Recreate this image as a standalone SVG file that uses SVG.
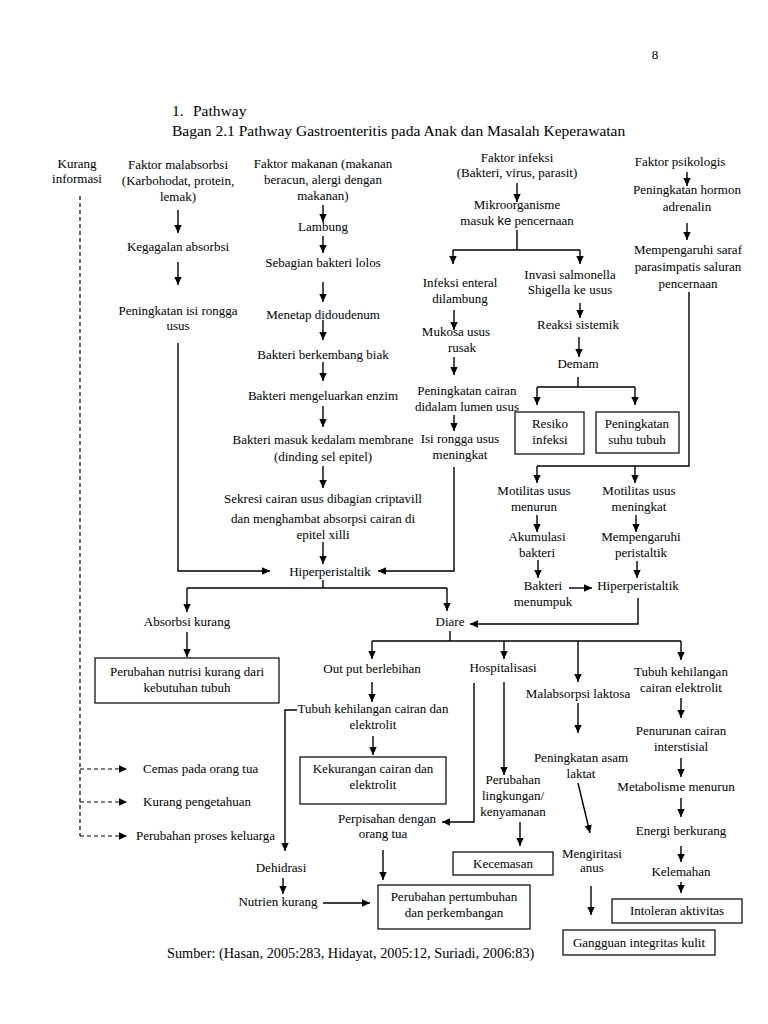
<svg xmlns="http://www.w3.org/2000/svg" width="768" height="1024" viewBox="0 0 768 1024">
<defs>
<marker id="ah" markerWidth="10" markerHeight="10" refX="8" refY="4" orient="auto" markerUnits="userSpaceOnUse"><path d="M0,0.3 L8,4 L0,7.7 z" fill="#000"/></marker>
</defs>
<style>
text{font-family:"Liberation Serif","Times New Roman",serif;font-size:13px;fill:#000}
.c{text-anchor:middle}
.h{font-size:15.5px}
.ln{fill:none;stroke:#000;stroke-width:1.4}
.ar{fill:none;stroke:#000;stroke-width:1.4;marker-end:url(#ah)}
.da{fill:none;stroke:#000;stroke-width:1.2;stroke-dasharray:4 3}
.dar{fill:none;stroke:#000;stroke-width:1.2;stroke-dasharray:4 3;marker-end:url(#ah)}
.box{fill:#fff;stroke:#000;stroke-width:1.2}
</style>
<rect width="768" height="1024" fill="#fff"/>
<g id="header">
<text x="655" y="59" class="c">8</text>
<text x="172" y="116" class="h">1.</text>
<text x="193" y="116" class="h">Pathway</text>
<text x="172" y="136" class="h">Bagan 2.1 Pathway Gastroenteritis pada Anak dan Masalah Keperawatan</text>
</g>
<g id="connectors">
<path class="da" d="M80,196 V836"/>
<path class="dar" d="M80,769 H127"/>
<path class="dar" d="M80,802 H127"/>
<path class="dar" d="M80,836 H127"/>
<path class="ar" d="M178,210 V233"/>
<path class="ar" d="M178,262 V285"/>
<path class="ar" d="M178,343 V571 H270"/>
<path class="ar" d="M323,205 V222"/>
<path class="ar" d="M323,236 V253"/>
<path class="ar" d="M323,282 V302"/>
<path class="ar" d="M323,320 V340"/>
<path class="ar" d="M323,362 V381"/>
<path class="ar" d="M323,406 V427"/>
<path class="ar" d="M323,466 V488"/>
<path class="ar" d="M323,542 V564"/>
<path class="ln" d="M323,580 V588 M187,588 H447"/>
<path class="ar" d="M187,588 V612"/>
<path class="ar" d="M447,588 V611"/>
<path class="ar" d="M187,632 V657"/>
<path class="ar" d="M517,183 V202"/>
<path class="ln" d="M517,230 V250 M453,250 H580"/>
<path class="ar" d="M453,250 V264"/>
<path class="ar" d="M580,250 V264"/>
<path class="ar" d="M454,310 V330"/>
<path class="ar" d="M454,357 V375"/>
<path class="ar" d="M454,415 V431"/>
<path class="ar" d="M454,467 V571 H378"/>
<path class="ar" d="M580,303 V318"/>
<path class="ar" d="M579,337 V357"/>
<path class="ln" d="M578,377 V387 M537,387 H635"/>
<path class="ar" d="M537,387 V405"/>
<path class="ar" d="M635,387 V405"/>
<path class="ar" d="M687,172 V186"/>
<path class="ar" d="M687,223 V240"/>
<path class="ln" d="M689,292 V466 H537"/>
<path class="ar" d="M537,466 V483"/>
<path class="ar" d="M635,466 V483"/>
<path class="ar" d="M537,515 V532"/>
<path class="ar" d="M538,560 V578"/>
<path class="ar" d="M569,588 H592"/>
<path class="ar" d="M636,515 V532"/>
<path class="ar" d="M637,561 V578"/>
<path class="ar" d="M638,598 V624 H470"/>
<path class="ln" d="M450,631 V641 M372,641 H681"/>
<path class="ar" d="M372,641 V659"/>
<path class="ar" d="M504,641 V659"/>
<path class="ar" d="M578,641 V682"/>
<path class="ar" d="M681,641 V660"/>
<path class="ar" d="M372,682 V702"/>
<path class="ar" d="M297,710 H285 V851"/>
<path class="ar" d="M373,736 V755"/>
<path class="ar" d="M474,683 V822 H442"/>
<path class="ar" d="M504,682 V775"/>
<path class="ar" d="M520,822 V846"/>
<path class="ar" d="M383,850 V880"/>
<path class="ar" d="M283,878 V894"/>
<path class="ar" d="M323,903 H370"/>
<path class="ar" d="M578,703 V733"/>
<path class="ar" d="M578,783 L590,833"/>
<path class="ar" d="M591,886 V915"/>
<path class="ar" d="M681,698 V718"/>
<path class="ar" d="M681,758 V777"/>
<path class="ar" d="M681,798 V817"/>
<path class="ar" d="M681,846 V862"/>
<path class="ar" d="M681,882 V893"/>
</g>
<g id="n-kurang-informasi"><text x="77" y="168" class="c">Kurang</text><text x="77" y="183" class="c">informasi</text></g>
<g id="n-faktor-malabsorbsi"><text x="178" y="169" class="c">Faktor malabsorbsi</text><text x="178" y="185" class="c">(Karbohodat, protein,</text><text x="178" y="201" class="c">lemak)</text></g>
<g id="n-kegagalan"><text x="178" y="251" class="c">Kegagalan absorbsi</text></g>
<g id="n-peningkatan-isi"><text x="178" y="315" class="c">Peningkatan isi rongga</text><text x="178" y="330" class="c">usus</text></g>
<g id="n-faktor-makanan"><text x="323" y="168" class="c">Faktor makanan (makanan</text><text x="323" y="184" class="c">beracun, alergi dengan</text><text x="323" y="200" class="c">makanan)</text></g>
<g id="n-lambung"><text x="323" y="231" class="c">Lambung</text></g>
<g id="n-sebagian"><text x="323" y="267" class="c">Sebagian bakteri lolos</text></g>
<g id="n-menetap"><text x="323" y="319" class="c">Menetap didoudenum</text></g>
<g id="n-berkembang"><text x="323" y="359" class="c">Bakteri berkembang biak</text></g>
<g id="n-enzim"><text x="323" y="400" class="c">Bakteri mengeluarkan enzim</text></g>
<g id="n-membrane"><text x="323" y="444" class="c">Bakteri masuk kedalam membrane</text><text x="323" y="461" class="c">(dinding sel epitel)</text></g>
<g id="n-sekresi"><text x="323" y="503" class="c">Sekresi cairan usus dibagian criptavill</text><text x="323" y="523" class="c">dan menghambat absorpsi cairan di</text><text x="323" y="539" class="c">epitel xilli</text></g>
<g id="n-hiper1"><text x="330" y="576" class="c">Hiperperistaltik</text></g>
<g id="n-absorbsi-kurang"><text x="187" y="626" class="c">Absorbsi kurang</text></g>
<g id="n-nutrisi"><rect class="box" x="95" y="658" width="184" height="45"/><text x="187" y="676" class="c">Perubahan nutrisi kurang dari</text><text x="187" y="692" class="c">kebutuhan tubuh</text></g>
<g id="n-faktor-infeksi"><text x="517" y="162" class="c">Faktor infeksi</text><text x="517" y="177" class="c">(Bakteri, virus, parasit)</text></g>
<g id="n-mikro"><text x="517" y="209" class="c">Mikroorganisme</text><text x="517" y="225" class="c">masuk <tspan font-family="Liberation Sans, Arial, sans-serif">ke</tspan> pencernaan</text></g>
<g id="n-enteral"><text x="460" y="287" class="c">Infeksi enteral</text><text x="460" y="303" class="c">dilambung</text></g>
<g id="n-mukosa"><text x="456" y="336" class="c">Mukosa usus</text><text x="462" y="352" class="c">rusak</text></g>
<g id="n-pen-cairan"><text x="467" y="395" class="c">Peningkatan cairan</text><text x="467" y="411" class="c">didalam lumen usus</text></g>
<g id="n-isi-rongga"><text x="460" y="443" class="c">Isi rongga usus</text><text x="460" y="459" class="c">meningkat</text></g>
<g id="n-invasi"><text x="570" y="279" class="c">Invasi salmonella</text><text x="570" y="294" class="c">Shigella ke usus</text></g>
<g id="n-reaksi"><text x="578" y="329" class="c">Reaksi sistemik</text></g>
<g id="n-demam"><text x="578" y="368" class="c">Demam</text></g>
<g id="n-resiko"><rect class="box" x="515" y="412" width="69" height="42"/><text x="550" y="428" class="c">Resiko</text><text x="550" y="444" class="c">infeksi</text></g>
<g id="n-suhu"><rect class="box" x="596" y="412" width="83" height="41"/><text x="637" y="428" class="c">Peningkatan</text><text x="637" y="444" class="c">suhu tubuh</text></g>
<g id="n-psikologis"><text x="680" y="166" class="c">Faktor psikologis</text></g>
<g id="n-hormon"><text x="687" y="194" class="c">Peningkatan hormon</text><text x="687" y="211" class="c">adrenalin</text></g>
<g id="n-saraf"><text x="688" y="254" class="c">Mempengaruhi saraf</text><text x="688" y="271" class="c">parasimpatis saluran</text><text x="688" y="288" class="c">pencernaan</text></g>
<g id="n-motilitas-turun"><text x="534" y="495" class="c">Motilitas usus</text><text x="534" y="511" class="c">menurun</text></g>
<g id="n-akumulasi"><text x="537" y="541" class="c">Akumulasi</text><text x="537" y="557" class="c">bakteri</text></g>
<g id="n-menumpuk"><text x="543" y="590" class="c">Bakteri</text><text x="543" y="606" class="c">menumpuk</text></g>
<g id="n-motilitas-naik"><text x="639" y="495" class="c">Motilitas usus</text><text x="639" y="511" class="c">meningkat</text></g>
<g id="n-peristaltik"><text x="641" y="541" class="c">Mempengaruhi</text><text x="641" y="557" class="c">peristaltik</text></g>
<g id="n-hiper2"><text x="638" y="590" class="c">Hiperperistaltik</text></g>
<g id="n-diare"><text x="450" y="626" class="c">Diare</text></g>
<g id="n-output"><text x="372" y="673" class="c">Out put berlebihan</text></g>
<g id="n-tubuh1"><text x="373" y="713" class="c">Tubuh kehilangan cairan dan</text><text x="373" y="729" class="c">elektrolit</text></g>
<g id="n-kekurangan"><rect class="box" x="300" y="757" width="146" height="47"/><text x="373" y="773" class="c">Kekurangan cairan dan</text><text x="373" y="789" class="c">elektrolit</text></g>
<g id="n-hospitalisasi"><text x="503" y="672" class="c">Hospitalisasi</text></g>
<g id="n-lingkungan"><text x="513" y="784" class="c">Perubahan</text><text x="513" y="800" class="c">lingkungan/</text><text x="513" y="816" class="c">kenyamanan</text></g>
<g id="n-kecemasan"><rect class="box" x="453" y="852" width="100" height="23"/><text x="503" y="868" class="c">Kecemasan</text></g>
<g id="n-perpisahan"><text x="387" y="823" class="c">Perpisahan dengan</text><text x="383" y="838" class="c">orang tua</text></g>
<g id="n-pertumbuhan"><rect class="box" x="378" y="885" width="152" height="44"/><text x="454" y="901" class="c">Perubahan pertumbuhan</text><text x="454" y="917" class="c">dan perkembangan</text></g>
<g id="n-dehidrasi"><text x="281" y="872" class="c">Dehidrasi</text></g>
<g id="n-nutrien"><text x="278" y="906" class="c">Nutrien kurang</text></g>
<g id="n-laktosa"><text x="578" y="698" class="c">Malabsorpsi laktosa</text></g>
<g id="n-asam"><text x="581" y="762" class="c">Peningkatan asam</text><text x="581" y="778" class="c">laktat</text></g>
<g id="n-iritasi"><text x="592" y="858" class="c">Mengiritasi</text><text x="592" y="872" class="c">anus</text></g>
<g id="n-integritas"><rect class="box" x="563" y="930" width="152" height="25"/><text x="639" y="947" class="c">Gangguan integritas kulit</text></g>
<g id="n-tubuh2"><text x="681" y="676" class="c">Tubuh kehilangan</text><text x="681" y="692" class="c">cairan elektrolit</text></g>
<g id="n-interstisial"><text x="681" y="735" class="c">Penurunan cairan</text><text x="681" y="751" class="c">interstisial</text></g>
<g id="n-metabolisme"><text x="676" y="791" class="c">Metabolisme menurun</text></g>
<g id="n-energi"><text x="681" y="835" class="c">Energi berkurang</text></g>
<g id="n-kelemahan"><text x="681" y="876" class="c">Kelemahan</text></g>
<g id="n-intoleran"><rect class="box" x="612" y="899" width="130" height="24"/><text x="677" y="915" class="c">Intoleran aktivitas</text></g>
<g id="n-cemas"><text x="143" y="773">Cemas pada orang tua</text></g>
<g id="n-pengetahuan"><text x="143" y="806">Kurang pengetahuan</text></g>
<g id="n-proses"><text x="136" y="840">Perubahan proses keluarga</text></g>
<g id="footer"><text x="167" y="958" style="font-size:14.3px">Sumber: (Hasan, 2005:283, Hidayat, 2005:12, Suriadi, 2006:83)</text></g>
</svg>
